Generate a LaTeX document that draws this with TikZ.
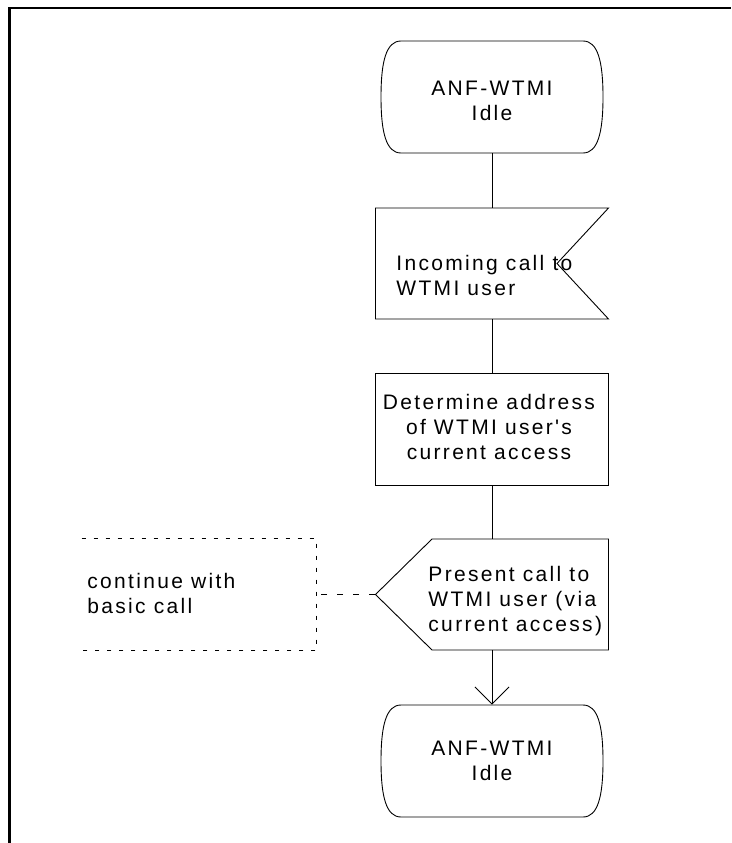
\documentclass[tikz,border=0pt]{standalone}
\usepackage{fontspec}
\newfontfamily\diafont{Liberation Sans}[LetterSpace=11]
\usetikzlibrary{arrows.meta,calc}
\begin{document}
\begin{tikzpicture}[x=1pt,y=-1pt,
  line width=0.9pt,
  shp/.style={draw=none,inner sep=0pt,minimum width=#1},
  outl/.style={line width=0.9pt,line join=miter},
  txtbase/.style={inner sep=0pt,font=\diafont\fontsize{21}{25}\selectfont},
  txtc/.style={txtbase,align=center},
  txtl/.style={txtbase,align=left,anchor=west},
  conn/.style={line width=0.9pt},
  dconn/.style={line width=0.9pt,dash pattern=on 6pt off 10pt},
  dbox/.style={line width=0.9pt,dash pattern=on 4pt off 8pt},
  frame/.style={line width=2.3pt}
]
\useasboundingbox (0,0) rectangle (731,843);
% frame
\draw[frame] (9.5,843) -- (9.5,7.7) -- (731,7.7);

% shape nodes
\node[shp=222pt,minimum height=112pt] (idle1) at (492,97) {};
\node[shp=233pt,minimum height=111pt] (inp) at (492,263.5) {};
\node[draw,outl,inner sep=0pt,minimum width=233pt,minimum height=112pt] (task) at (492,429) {};
\node[shp=233pt,minimum height=111pt] (outp) at (492,594.5) {};
\node[shp=222pt,minimum height=112pt] (idle2) at (492,761) {};
\node[shp=234pt,minimum height=111pt] (cont) at (199,594.5) {};

% outlines
\draw[outl,shift={(idle1.center)}] (-91,-56) -- (91,-56)
  .. controls (106,-56) and (111,-35) .. (111,0)
  .. controls (111,35) and (106,56) .. (91,56) -- (-91,56)
  .. controls (-106,56) and (-111,35) .. (-111,0)
  .. controls (-111,-35) and (-106,-56) .. (-91,-56) -- cycle;
\draw[outl,shift={(idle2.center)}] (-91,-56) -- (91,-56)
  .. controls (106,-56) and (111,-35) .. (111,0)
  .. controls (111,35) and (106,56) .. (91,56) -- (-91,56)
  .. controls (-106,56) and (-111,35) .. (-111,0)
  .. controls (-111,-35) and (-106,-56) .. (-91,-56) -- cycle;
\draw[outl,shift={(inp.center)}] (-116.5,-55.5) -- (116.5,-55.5) -- (65,0)
  -- (116.5,55.5) -- (-116.5,55.5) -- cycle;
\draw[outl,shift={(outp.center)}] (-60,-55.5) -- (116.5,-55.5) -- (116.5,55.5)
  -- (-60,55.5) -- (-116.5,0) -- cycle;
\draw[dbox] (cont.north west) -- (cont.north east) -- (cont.south east) -- (cont.south west);

% texts
\node[txtc] (t1) at (492,103) {\strut ANF-WTMI\\\strut Idle};
\node[txtl] (t2) at (396,278) {\strut Incoming call to\\\strut WTMI user};
\node[txtc] (t3) at (489,429) {\strut Determine address\\\strut of WTMI user's\\\strut current access};
\node[txtl] (t4) at (428,601) {\strut Present call to\\\strut WTMI user (via\\\strut current access)};
\node[txtc] (t5) at (492,763) {\strut ANF-WTMI\\\strut Idle};
\node[txtl] (t6) at (87,596) {\strut continue with\\\strut basic call};

% connectors
\draw[conn] (idle1.south) -- (inp.north);
\draw[conn] (inp.south) -- (task.north);
\draw[conn] (task.south) -- (outp.north);
\draw[conn,-{Straight Barb[length=17pt,width=34pt,line width=0.9pt]}] (outp.south) -- (idle2.north);
\draw[dconn] (outp.west) -- (cont.east);
\end{tikzpicture}
\end{document}
